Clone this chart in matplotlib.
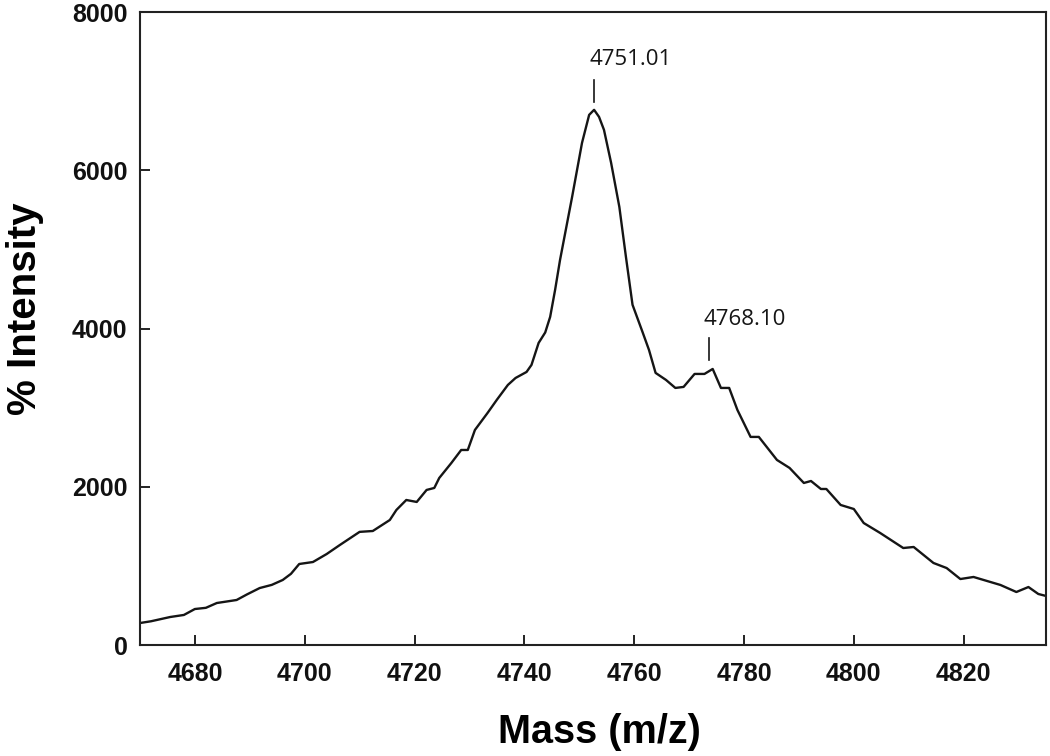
import matplotlib
matplotlib.use("Agg")
import matplotlib.pyplot as plt

# spectrum trace (m/z, intensity)
mass = [4670.0, 4672.0, 4675.5, 4678.0, 4680.0, 4682.0, 4684.0, 4687.6, 4689.5,
        4691.8, 4694.0, 4696.0, 4697.5, 4699.0, 4701.5, 4704.0, 4706.4, 4710.0,
        4712.4, 4715.5, 4716.7, 4718.5, 4720.4, 4722.2, 4723.6, 4724.5, 4726.7,
        4728.5, 4729.7, 4731.0, 4733.3, 4735.0, 4737.0, 4738.4, 4740.4, 4741.3,
        4742.6, 4743.8, 4744.7, 4745.6, 4746.5, 4748.7, 4750.5, 4751.8, 4752.7,
        4753.6, 4754.5, 4755.8, 4757.3, 4758.5, 4759.7, 4761.5, 4762.7, 4763.9,
        4765.8, 4767.5, 4769.0, 4771.0, 4772.8, 4774.3, 4775.8, 4777.3, 4778.8,
        4781.2, 4782.7, 4786.0, 4788.3, 4789.5, 4790.9, 4792.2, 4794.0, 4795.0,
        4797.6, 4800.0, 4801.8, 4804.8, 4809.0, 4810.9, 4814.5, 4816.9, 4819.4,
        4821.8, 4826.7, 4829.6, 4831.8, 4833.6, 4835.0]
intensity = [278, 300, 354, 380, 455, 470, 531, 569, 640,
             720, 760, 822, 900, 1024, 1049, 1150, 1264, 1430,
             1441, 1580, 1707, 1833, 1808, 1960, 1985, 2111, 2300,
             2465, 2465, 2718, 2933, 3100, 3287, 3375, 3451, 3540,
             3818, 3950, 4147, 4488, 4867, 5664, 6346, 6700, 6764,
             6675, 6511, 6094, 5537, 4905, 4300, 3960, 3729, 3439,
             3350, 3249, 3262, 3426, 3426, 3489, 3249, 3249, 2971,
             2630, 2630, 2339, 2238, 2150, 2048, 2073, 1972, 1972,
             1770, 1719, 1542, 1416, 1226, 1239, 1037, 973, 834,
             860, 759, 670, 733, 645, 620]

x_ticks = [4680, 4700, 4720, 4740, 4760, 4780, 4800, 4820]
y_ticks = [0, 2000, 4000, 6000, 8000]

# peak labels: text, marker x, marker y bottom/top, text anchor (x, y)
peak_labels = ["4751.01", "4768.10"]
peak_x = [4752.7, 4773.6]
peak_y = [(6865, 7143), (3603, 3881)]
label_xy = [(4751.8, 7330), (4772.7, 4045)]

fig = plt.figure(figsize=(10.5, 7.56), dpi=100)
ax = fig.add_axes([0.1333, 0.1468, 0.8629, 0.8373])

ax.plot(mass, intensity, color='#151515', linewidth=1.7)

for lab, px, (y0, y1), (tx, ty) in zip(peak_labels, peak_x, peak_y, label_xy):
    ax.plot([px, px], [y0, y1], color='#151515', linewidth=1.2)
    ax.text(tx, ty, lab, ha='left', va='baseline', fontsize=16,
            family='Open Sans', color='#151515')

ax.set_xlim(4670, 4835)
ax.set_ylim(0, 8000)
ax.set_xticks(x_ticks)
ax.set_yticks(y_ticks)
for sp in ax.spines.values():
    sp.set_linewidth(1.5)
    sp.set_color('#222222')
ax.tick_params(direction='in', length=7, width=1.3, top=False, right=False,
               labelsize=18, colors='#111111')
ax.tick_params(axis='x', pad=12)
ax.tick_params(axis='y', pad=9)
for lbl in ax.get_xticklabels() + ax.get_yticklabels():
    lbl.set_fontweight('bold')
    lbl.set_family('Liberation Sans')

ax.set_xlabel("Mass (m/z)", fontsize=28.5, fontweight='bold', family='Liberation Sans')
ax.set_ylabel("% Intensity", fontsize=29, fontweight='bold', family='Liberation Sans')
ax.xaxis.set_label_coords(0.507, -0.108)
ax.yaxis.set_label_coords(-0.106, 0.531)

fig.savefig("out.png", dpi=100)
